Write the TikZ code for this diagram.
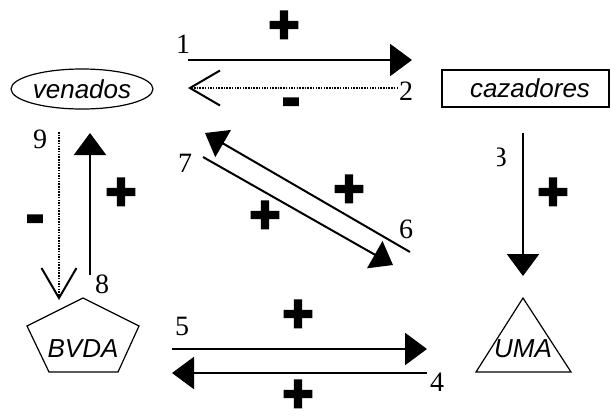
\documentclass[tikz,border=0pt]{standalone}
\usepackage{fontspec}
\setmainfont{Liberation Serif}
\newfontfamily\labelfont{Liberation Sans}
\newfontfamily\signfont{Liberation Sans Bold}[FakeBold=5]
\usetikzlibrary{arrows.meta,shapes.geometric}
\begin{document}
\begin{tikzpicture}[x=1pt,y=-1pt,
  num/.style={font=\fontsize{28}{28}\selectfont, inner sep=0, anchor=base},
  lbl/.style={font=\labelfont\itshape\fontsize{26}{26}\selectfont, inner sep=0, anchor=base},
  sign/.style={font=\signfont\fontsize{52}{52}\selectfont, inner sep=0},
  shapeline/.style={line width=1.2pt},
  solidarrow/.style={line width=2.4pt, -{Triangle[length=22pt,width=32pt]}},
  diagarrow/.style={line width=2pt, -{Triangle[length=21pt,width=31pt]}},
  dottedarrow/.style={line width=2pt, dash pattern=on 1.5pt off 1.2pt, -{Straight Barb[length=30pt,width=35pt]}}
]
\useasboundingbox (0,0) rectangle (611,418);

% entities
\node[shapeline, draw, ellipse, minimum width=142pt, minimum height=40pt, inner sep=0,
      font=\labelfont\itshape\fontsize{26}{26}\selectfont] (venados) at (82,89) {venados};
\draw[shapeline] (442,70) rectangle (609,107);
\node[lbl] (cazadores) at (530,97) {cazadores};
\draw[shapeline] (83,298) -- (139,326) -- (118,372) -- (49,372) -- (27,326) -- cycle;
\node[lbl] (bvda) at (83,357) {BVDA};
\draw[shapeline] (523,298) -- (571,372) -- (476,372) -- cycle;
\node[lbl] (uma) at (523,357) {UMA};

% connector end points
\coordinate (a1s) at (188,60);  \coordinate (a1e) at (412,60);
\coordinate (a2s) at (398,88);  \coordinate (a2e) at (188,88);
\coordinate (a3s) at (523,133); \coordinate (a3e) at (523,276);
\coordinate (a4s) at (427,373); \coordinate (a4e) at (172,373);
\coordinate (a5s) at (172,349); \coordinate (a5e) at (427,349);
\coordinate (a6s) at (410,252); \coordinate (a6e) at (205,133);
\coordinate (a7s) at (203,157); \coordinate (a7e) at (393,265);
\coordinate (a8s) at (90,275);  \coordinate (a8e) at (90,133);
\coordinate (a9s) at (59,132);  \coordinate (a9e) at (59,300);

\draw[solidarrow] (a1s) -- (a1e);
\draw[dottedarrow] (a2s) -- (a2e);
\draw[solidarrow] (a3s) -- (a3e);
\draw[solidarrow] (a4s) -- (a4e);
\draw[solidarrow] (a5s) -- (a5e);
\draw[diagarrow] (a6s) -- (a6e);
\draw[diagarrow] (a7s) -- (a7e);
\draw[solidarrow] (a8s) -- (a8e);
\draw[dottedarrow] (a9s) -- (a9e);

% numbers
\node[num] (n1) at (183,53) {1};
\node[num] (n2) at (406,100) {2};
\begin{scope}
  \clip (497,130) rectangle (520,175);
  \node[num, anchor=base east] (n3) at (507,166) {3};
\end{scope}
\node[num] (n4) at (437,391) {4};
\node[num] (n5) at (182,335) {5};
\node[num] (n6) at (406,238) {6};
\node[num] (n7) at (185,172) {7};
\node[num] (n8) at (102,293) {8};
\node[num] (n9) at (40,148) {9};

% signs
\node[sign] (s1) at (284,27) {+};
\node[sign] (s2) at (291,107) {-};
\node[sign] (s8) at (121,194) {+};
\node[sign] (s9) at (35,224) {-};
\node[sign] (s6) at (349,191) {+};
\node[sign] (s7) at (265,217) {+};
\node[sign] (s3) at (553,194) {+};
\node[sign] (s5) at (298,316) {+};
\node[sign] (s4) at (298,396) {+};
\end{tikzpicture}
\end{document}
